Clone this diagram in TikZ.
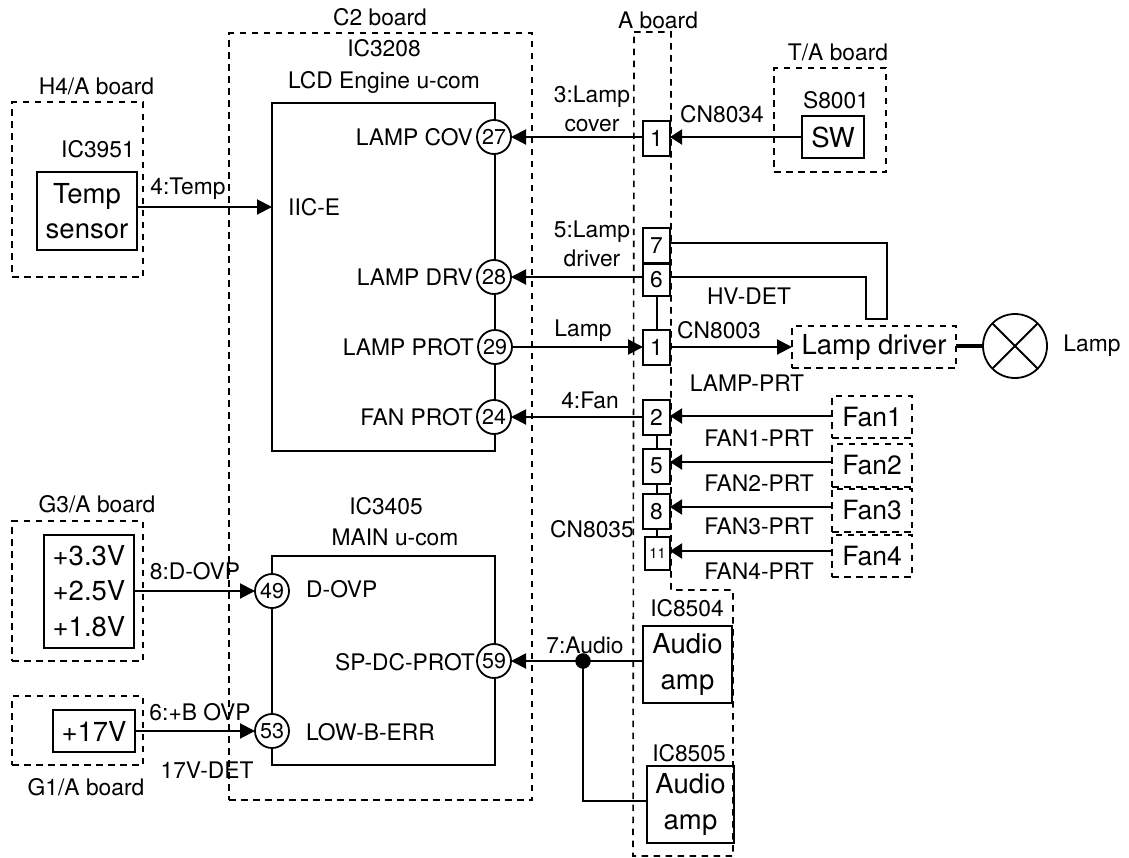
\documentclass[tikz,border=0pt]{standalone}
\usepackage{fontspec}
\setmainfont{TeX Gyre Heros}
\usetikzlibrary{arrows.meta}
\newcommand\smallfs{\fontsize{22.8}{29}\selectfont}
\newcommand\bigfs{\fontsize{27.5}{35.5}\selectfont}
\newcommand\fanfs{\fontsize{26.5}{32}\selectfont}
\newcommand\pinfs{\fontsize{21.5}{25}\selectfont}
\tikzset{
  lbl/.style={font=\smallfs,inner sep=0pt,align=center},
  board/.style={draw,dashed,dash pattern=on 6.5pt off 5.5pt,line width=1.6pt,inner sep=0pt},
  chip/.style={draw,line width=2pt,inner sep=0pt,outer sep=0pt},
  dashbox/.style={board,font=\fanfs,outer sep=0pt},
  bigbox/.style={chip,font=\bigfs,align=center},
  pinbox/.style={chip,font=\smallfs,minimum width=27pt,minimum height=35pt},
  pin/.style={draw,circle,fill=white,line width=1.8pt,inner sep=0pt,outer sep=0pt,minimum size=34pt,font=\pinfs},
  wire/.style={line width=2pt},
  arr/.style={wire,-{Triangle[length=15pt,width=15pt]}},
  arrs/.style={wire,-{Triangle[length=12pt,width=15pt]}}
}
\begin{document}
\begin{tikzpicture}[x=1pt,y=-1pt]
\useasboundingbox (0,0) rectangle (1129,857);
\fill[white] (0,0) rectangle (1129,857);
% boards
\node[board,minimum width=303pt,minimum height=767pt] (c2board) at (380.5,416.5) {};
\node[board,minimum width=131pt,minimum height=175pt] (h4board) at (77.5,189.5) {};
\node[board,minimum width=131pt,minimum height=140pt] (g3board) at (77.5,591) {};
\node[board,minimum width=131pt,minimum height=69pt] (g1board) at (77.5,730.5) {};
\node[board,minimum width=112pt,minimum height=104pt] (taboard) at (830,120) {};
\draw[board] (634,32) -- (671,32) -- (671,590) -- (733,590) -- (733,856) -- (633,856) -- cycle;
% IC boxes
\node[chip,minimum width=223pt,minimum height=348pt] (ic3208) at (383.5,277) {};
\node[chip,minimum width=223pt,minimum height=209pt] (ic3405) at (383.5,660.5) {};
% pins
\node[pin] (p27) at (494,137) {27};
\node[pin] (p28) at (494,277) {28};
\node[pin] (p29) at (495,347) {29};
\node[pin] (p24) at (494,417) {24};
\node[pin] (p49) at (272,591) {49};
\node[pin] (p53) at (272,731) {53};
\node[pin] (p59) at (494,661) {59};
% sources
\node[bigbox,minimum width=100pt,minimum height=78pt] (temp) at (87,211) {Temp\\sensor};
\node[bigbox,minimum width=90pt,minimum height=113pt] (volts) at (89,591) {+3.3V\\+2.5V\\+1.8V};
\node[bigbox,minimum width=82pt,minimum height=42pt] (v17) at (94,731) {+17V};
\node[bigbox,minimum width=62pt,minimum height=42pt] (sw) at (833,137) {SW};
\node[dashbox,font=\bigfs,minimum width=164pt,minimum height=42pt] (driver) at (874,347) {Lamp driver};
\node[dashbox,minimum width=80pt,minimum height=42pt] (fan1) at (872,417) {Fan1};
\node[dashbox,minimum width=80pt,minimum height=43pt] (fan2) at (872,465.5) {Fan2};
\node[dashbox,minimum width=80pt,minimum height=43pt] (fan3) at (872,510.5) {Fan3};
\node[dashbox,minimum width=80pt,minimum height=42pt] (fan4) at (872,556) {Fan4};
\node[bigbox,minimum width=89pt,minimum height=77pt] (amp1) at (687.5,664.5) {Audio\\amp};
\node[bigbox,minimum width=87pt,minimum height=77pt] (amp2) at (690.5,804.5) {Audio\\amp};
% A-board connector pins
\node[pinbox] (b1a) at (656.5,138) {1};
\node[pinbox] (b7) at (656.5,245.5) {7};
\node[pinbox,minimum height=32pt] (b6) at (656.5,280) {6};
\node[pinbox] (b1b) at (656.5,347) {1};
\node[pinbox] (b2) at (656.5,417) {2};
\node[pinbox] (b5) at (656.5,466) {5};
\node[pinbox] (b8) at (656.5,511.5) {8};
\node[pinbox,font=\fontsize{14.5}{16}\selectfont,minimum width=25pt,minimum height=33pt] (b11) at (657.5,553.5) {11};
% lamp
\node[draw,circle,line width=1.8pt,inner sep=0pt,outer sep=0pt,minimum size=64pt] (lamp) at (1015,346) {};
\draw[line width=1.8pt] (lamp.45) -- (lamp.225);
\draw[line width=1.8pt] (lamp.135) -- (lamp.315);
\draw[line width=3.6pt] (driver.east |- lamp.west) -- (lamp.west);
% junction and free ends
\node[draw,fill=black,circle,inner sep=0pt,minimum size=15pt] (dot) at (583,661) {};
\coordinate (turnA) at (887,319);
\coordinate (turnB) at (866,319);
% connectors
\draw[arrs] (sw.west) -- (b1a.east |- sw.west);
\draw[arr] (b1a.west |- p27) -- (p27.east);
\draw[arr] ([yshift=4pt]temp.east) -- ([yshift=4pt]temp.east -| ic3208.west);
\draw[wire] (b7.east |- 0,243) -| (turnA) -- (turnB) |- (b6.east |- 0,277);
\draw[arr] (b6.west |- p28) -- (p28.east);
\draw[arr] (p29.east) -- (b1b.west |- p29);
\draw[arr] (b1b.east) -- (driver.west);
\draw[arr] (b2.west) -- (p24.east |- b2.west);
\draw[arrs] ([yshift=1pt]fan1.west) -- ([yshift=1pt]fan1.west -| b2.east);
\draw[arrs] ([yshift=3.5pt]fan2.west) -- ([yshift=3.5pt]fan2.west -| b5.east);
\draw[arrs] ([yshift=3.5pt]fan3.west) -- ([yshift=3.5pt]fan3.west -| b8.east);
\draw[arrs] ([yshift=5pt]fan4.west) -- ([yshift=5pt]fan4.west -| b11.east);
\draw[wire] (b6.south) -- (b1b.north);
\draw[wire] (b2.south) -- (b5.north);
\draw[wire] (b5.south) -- (b8.north);
\draw[wire] (b8.south) -- (b8.south |- b11.north);
\draw[arr] (volts.east) -- (p49.west);
\draw[arr] (v17.east) -- (p53.west);
\draw[arr] (dot.center) -- (p59.east);
\draw[wire] (amp1.west |- dot) -- (dot.center);
\draw[wire] (dot.center) |- ([yshift=3.5pt]amp2.west);
% labels
\node[lbl] (t01) at (380,17) {C2 board};
\node[lbl] (t02) at (384,48) {IC3208};
\node[lbl] (t03) at (384,82) {LCD Engine u-com};
\node[lbl] (t04) at (658,20) {A board};
\node[lbl] (t05) at (838,52) {T/A board};
\node[lbl] (t06) at (836,100) {S8001};
\node[lbl] (t07) at (722,114) {CN8034};
\node[lbl] (t08) at (592,108.5) {3:Lamp\\cover};
\node[lbl] (t09) at (592,243.5) {5:Lamp\\driver};
\node[lbl,anchor=east] (t10) at (473,137) {LAMP COV};
\node[lbl,anchor=east] (t11) at (473,277) {LAMP DRV};
\node[lbl,anchor=east] (t12) at (474,347) {LAMP PROT};
\node[lbl,anchor=east] (t13) at (473,417) {FAN PROT};
\node[lbl,anchor=west] (t14) at (288,207) {IIC-E};
\node[lbl] (t15) at (96.5,86) {H4/A board};
\node[lbl] (t16) at (98,149) {IC3951};
\node[lbl] (t17) at (188,189) {4:Temp};
\node[lbl] (t18) at (97,504) {G3/A board};
\node[lbl] (t19) at (195,571) {8:D-OVP};
\node[lbl] (t20) at (200,712) {6:+B OVP};
\node[lbl] (t21) at (207,770) {17V-DET};
\node[lbl] (t22) at (86,787) {G1/A board};
\node[lbl] (t23) at (386,506) {IC3405};
\node[lbl] (t24) at (395,537) {MAIN u-com};
\node[lbl,anchor=west] (t25) at (306,589) {D-OVP};
\node[lbl,anchor=west] (t26) at (306,732) {LOW-B-ERR};
\node[lbl,anchor=east] (t27) at (475,662) {SP-DC-PROT};
\node[lbl] (t28) at (585,645) {7:Audio};
\node[lbl] (t29) at (687,608) {IC8504};
\node[lbl] (t30) at (689,753) {IC8505};
\node[lbl] (t31) at (749,296) {HV-DET};
\node[lbl] (t32) at (719,330) {CN8003};
\node[lbl] (t33) at (747,383) {LAMP-PRT};
\node[lbl] (t34) at (583,331) {Lamp};
\node[lbl] (t35) at (590,400) {4:Fan};
\node[lbl] (t36) at (759,438) {FAN1-PRT};
\node[lbl] (t37) at (759,483) {FAN2-PRT};
\node[lbl] (t38) at (759,526) {FAN3-PRT};
\node[lbl] (t39) at (759,571) {FAN4-PRT};
\node[lbl,anchor=east] (t40) at (634,529) {CN8035};
\node[lbl] (t41) at (1092,346) {Lamp};
\end{tikzpicture}
\end{document}
